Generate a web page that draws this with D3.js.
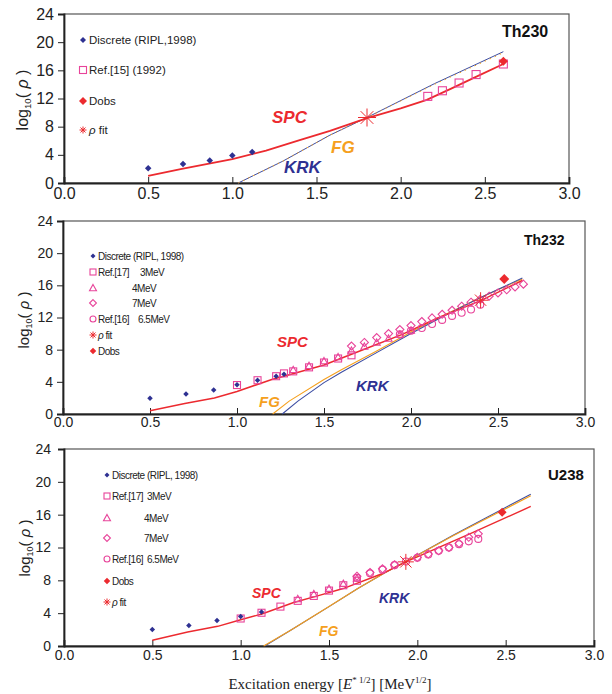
<!DOCTYPE html>
<html><head><meta charset="utf-8">
<script src="https://cdn.jsdelivr.net/npm/d3@7"></script>
<style>
body{margin:0;background:#fff;}
svg{display:block;font-family:"Liberation Sans",Arial,sans-serif;}
</style></head>
<body>
<svg id="chart" width="612" height="694"></svg>
<script>
// ---------- shared ticks ----------
const xTicks = [0, 0.5, 1.0, 1.5, 2.0, 2.5, 3.0];
const yTicks = [0, 4, 8, 12, 16, 20, 24];

// ---------- Th230 ----------
const th230DiscreteX = [0.5, 0.707, 0.866, 1.0, 1.118];
const th230DiscreteY = [2.1, 2.7, 3.2, 3.9, 4.4];
const th230RefX = [2.161, 2.248, 2.347, 2.448, 2.61];
const th230RefY = [12.3, 13.1, 14.2, 15.4, 16.9];
const th230Dobs = [2.61, 17.3];
const th230Fit = [1.80, 9.3];
const th230SpcX = [0.5, 0.7, 1.0, 1.2, 1.4, 1.58, 1.8, 2.0, 2.155, 2.3, 2.45, 2.61];
const th230SpcY = [1.0, 2.0, 3.4, 4.6, 6.1, 7.4, 9.2, 10.6, 11.8, 13.4, 15.1, 16.9];
const th230KrkX = [1.035, 1.3, 1.58, 1.8, 2.2, 2.61];
const th230KrkY = [0, 3.1, 6.8, 9.3, 14.1, 18.65];
const th230FgX = [1.035, 1.3, 1.58, 1.8, 2.2, 2.61];
const th230FgY = [0, 3.1, 6.8, 9.3, 14.0, 18.5];

// ---------- Th232 ----------
const th232DiscreteX = [0.5, 0.707, 0.866, 1.0, 1.118, 1.225, 1.27];
const th232DiscreteY = [1.95, 2.5, 3.0, 3.65, 4.2, 4.7, 4.95];
const th232Ref17_3X = [1.0, 1.118, 1.225, 1.27, 1.323, 1.414, 1.5, 1.581, 1.658];
const th232Ref17_3Y = [3.6, 4.2, 4.7, 5.05, 5.3, 5.8, 6.4, 6.9, 7.3];
const th232Ref17_4X = [1.323, 1.414, 1.5, 1.581, 1.658, 1.732, 1.803, 1.871, 1.936, 2.0];
const th232Ref17_4Y = [5.5, 6.0, 6.6, 7.1, 7.9, 8.4, 8.9, 9.4, 9.9, 10.4];
const th232Ref17_7X = [1.658, 1.732, 1.803, 1.871, 1.936, 2.0, 2.062, 2.121, 2.179, 2.236, 2.291, 2.345, 2.398, 2.449, 2.5, 2.55, 2.598, 2.646];
const th232Ref17_7Y = [8.45, 8.9, 9.5, 10.0, 10.5, 11.0, 11.5, 11.95, 12.4, 12.9, 13.4, 13.9, 14.25, 14.65, 15.05, 15.45, 15.8, 16.15];
const th232Ref16X = [1.936, 2.0, 2.062, 2.121, 2.179, 2.236, 2.291, 2.345, 2.398];
const th232Ref16Y = [9.9, 10.35, 10.7, 11.2, 11.7, 12.2, 12.6, 13.0, 13.6];
const th232Dobs = [2.536, 16.8];
const th232Fit = [2.40, 14.15];
const th232SpcX = [0.5, 0.7, 0.87, 1.0, 1.2, 1.27, 1.5, 1.75, 1.95, 2.15, 2.4, 2.64];
const th232SpcY = [0.4, 1.3, 2.0, 2.8, 4.3, 4.7, 6.1, 8.2, 9.9, 11.9, 14.1, 16.6];
const th232FgX = [1.205, 1.3, 1.5, 1.6, 1.8, 2.0, 2.2, 2.4, 2.64];
const th232FgY = [0, 1.6, 4.3, 5.5, 7.8, 10.2, 12.4, 14.5, 16.8];
const th232KrkX = [1.26, 1.35, 1.5, 1.6, 1.8, 2.0, 2.2, 2.4, 2.64];
const th232KrkY = [0, 1.6, 3.9, 5.2, 7.6, 10.0, 12.3, 14.5, 16.9];

// ---------- U238 ----------
const u238DiscreteX = [0.5, 0.707, 0.866, 1.0, 1.118];
const u238DiscreteY = [2.0, 2.5, 3.1, 3.6, 4.15];
const u238Ref17_3X = [1.0, 1.118, 1.225, 1.323, 1.414, 1.5, 1.581, 1.658];
const u238Ref17_3Y = [3.35, 4.05, 4.8, 5.5, 6.1, 6.75, 7.4, 7.95];
const u238Ref17_4X = [1.323, 1.414, 1.5, 1.581, 1.658];
const u238Ref17_4Y = [5.75, 6.35, 7.0, 7.6, 8.25];
const u238Ref17_7X = [1.658, 1.732, 1.803, 1.871, 2.0, 2.062, 2.121, 2.179, 2.236, 2.291, 2.345];
const u238Ref17_7Y = [8.5, 8.95, 9.4, 9.9, 10.8, 11.2, 11.6, 12.0, 12.5, 13.25, 13.66];
const u238Ref16X = [1.658, 1.732, 1.803, 1.871, 1.936, 2.0, 2.062, 2.121, 2.179, 2.236, 2.291, 2.345];
const u238Ref16Y = [8.3, 8.85, 9.3, 9.85, 10.3, 10.75, 11.15, 11.6, 12.0, 12.4, 12.75, 13.05];
const u238Dobs = [2.48, 16.3];
const u238Fit = [1.935, 10.25];
const u238SpcX = [0.5, 0.7, 0.87, 1.0, 1.12, 1.3, 1.45, 1.58, 1.8, 1.935, 2.3, 2.642];
const u238SpcY = [0.7, 1.7, 2.4, 3.2, 3.9, 5.3, 6.2, 7.0, 8.8, 10.25, 13.7, 17.0];
const u238FgX = [1.13, 1.29, 1.5, 1.663, 1.814, 1.935, 2.2, 2.642];
const u238FgY = [0, 2.0, 4.8, 7.0, 8.9, 10.3, 13.4, 18.3];
const u238KrkX = [1.136, 1.29, 1.5, 1.663, 1.814, 1.935, 2.2, 2.642];
const u238KrkY = [0, 2.0, 4.8, 7.0, 8.9, 10.3, 13.45, 18.5];

// ---------- colours ----------
const C = {red:"#ec2a2f", pink:"#e8449a", navy:"#2e3192", orange:"#f5a01e", blue:"#3c4da3", frame:"#333"};

const zip = (xs, ys) => xs.map((v, i) => [v, ys[i]]);
const svg = d3.select("#chart");

function diamond(g, cx, cy, s, fill, stroke) {
  const h = s / 2;
  return g.append("path").attr("d", `M${cx},${cy-h}L${cx+h},${cy}L${cx},${cy+h}L${cx-h},${cy}Z`)
    .attr("fill", fill).attr("stroke", stroke || "none").attr("stroke-width", stroke ? 1.1 : 0);
}

function marker(g, type, cx, cy, s) {
  if (type === "discrete") {
    diamond(g, cx, cy, s, C.navy);
  } else if (type === "square") {
    g.append("rect").attr("x", cx - s/2).attr("y", cy - s/2).attr("width", s).attr("height", s).attr("fill", "none").attr("stroke", C.pink).attr("stroke-width", 1.1);
  } else if (type === "tri") {
    const h = s*0.5;
    g.append("path").attr("d", `M${cx},${cy-h}L${cx+h},${cy+h*0.8}L${cx-h},${cy+h*0.8}Z`).attr("fill", "none").attr("stroke", C.pink).attr("stroke-width", 1.1);
  } else if (type === "diam") {
    diamond(g, cx, cy, s*1.15, "none", C.pink);
  } else if (type === "circ") {
    g.append("circle").attr("cx", cx).attr("cy", cy).attr("r", s/2).attr("fill", "none").attr("stroke", C.pink).attr("stroke-width", 1.1);
  } else if (type === "dobs") {
    diamond(g, cx, cy, s, C.red);
  } else if (type === "fit") {
    const r = s/2;
    [0, 45, 90, 135].forEach(a => {
      const rad = a*Math.PI/180;
      g.append("line").attr("x1", cx - r*Math.cos(rad)).attr("y1", cy - r*Math.sin(rad))
        .attr("x2", cx + r*Math.cos(rad)).attr("y2", cy + r*Math.sin(rad))
        .attr("stroke", C.red).attr("stroke-width", 1);
    });
  }
}

function panel(cfg) {
  const g = svg.append("g");
  const x = d3.scaleLinear().domain([0, 3]).range([cfg.x0, cfg.x1]);
  const y = d3.scaleLinear().domain([0, 24]).range([cfg.y0, cfg.y1]);

  g.append("rect").attr("x", cfg.x0).attr("y", cfg.y1).attr("width", cfg.x1 - cfg.x0).attr("height", cfg.y0 - cfg.y1)
    .attr("fill", "none").attr("stroke", "#555").attr("stroke-width", 1.2);

  const xa = g.append("g").attr("transform", `translate(0,${cfg.y0})`)
    .call(d3.axisBottom(x).tickValues(xTicks).tickSize(-6).tickPadding(cfg.xPad).tickFormat(d3.format(".1f")));
  const ya = g.append("g").attr("transform", `translate(${cfg.x0},0)`)
    .call(d3.axisLeft(y).tickValues(yTicks).tickSize(6).tickPadding(cfg.yPad));
  [xa, ya].forEach(a => {
    a.select(".domain").attr("stroke", "#222").attr("stroke-width", 1.8);
    a.selectAll(".tick line").attr("stroke", "#222").attr("stroke-width", 1);
    a.selectAll("text").attr("font-size", cfg.tickFont).attr("fill", "#222").attr("font-family", "Liberation Sans, Arial, sans-serif");
  });

  const line = d3.line().x(d => x(d[0])).y(d => y(d[1]));
  const fgPath = () => g.append("path").attr("d", line(zip(cfg.fgX, cfg.fgY))).attr("fill", "none").attr("stroke", C.orange);
  const krkPath = () => g.append("path").attr("d", line(zip(cfg.krkX, cfg.krkY))).attr("fill", "none").attr("stroke", C.blue);
  if (cfg.fgMode === "dotted") {
    krkPath().attr("stroke-width", 1);
    fgPath().attr("stroke-width", 1).attr("stroke-dasharray", "1.5,4");
  } else if (cfg.fgMode === "top") {
    krkPath().attr("stroke-width", 1.1);
    fgPath().attr("stroke-width", 1.2);
  } else {
    fgPath().attr("stroke-width", 1.1);
    krkPath().attr("stroke-width", 1.1);
  }
  g.append("path").attr("d", line(zip(cfg.spcX, cfg.spcY))).attr("fill", "none").attr("stroke", C.red).attr("stroke-width", cfg.spcW);

  // markers
  const m = g.append("g");
  const ms = cfg.ms;
  (cfg.series || []).forEach(s => {
    zip(s.x, s.y).forEach(d => marker(m, s.type, x(d[0]), y(d[1]), ms));
  });
  zip(cfg.discX, cfg.discY).forEach(d => marker(m, "discrete", x(d[0]), y(d[1]), cfg.discS));
  marker(m, "fit", x(cfg.fit[0]), y(cfg.fit[1]), cfg.fitSize);
  marker(m, "dobs", x(cfg.dobs[0]), y(cfg.dobs[1]), cfg.dobsS);

  // curve labels
  cfg.labels.forEach(l => {
    g.append("text").attr("x", l.x).attr("y", l.y).text(l.t).attr("fill", l.c)
      .attr("font-size", l.fs).attr("font-weight", "bold").attr("font-style", "italic");
  });

  // nucleus title
  g.append("text").attr("x", cfg.title.x).attr("y", cfg.title.y).text(cfg.title.t)
    .attr("font-size", cfg.title.fs).attr("font-weight", "bold").attr("fill", "#111");

  // y axis title log10(ρ)
  const yt = g.append("text").attr("transform", `translate(${cfg.ytx},${cfg.yty}) rotate(-90)`)
    .attr("text-anchor", "middle").attr("font-size", cfg.ytFont).attr("fill", "#222");
  yt.append("tspan").text("log");
  yt.append("tspan").text("10").attr("font-size", cfg.ytFont*0.6).attr("dy", 3);
  yt.append("tspan").text("(").attr("dy", -3);
  yt.append("tspan").text(" ρ ").attr("font-style", "italic");
  yt.append("tspan").text(")");

  // legend
  cfg.legend.forEach(r => {
    marker(g, r.type, r.mx, r.y, r.ms);
    if (r.t) {
      const t = g.append("text").attr("x", r.tx).attr("y", r.y + cfg.legFont*0.36).attr("font-size", cfg.legFont)
        .attr("fill", "#222").attr("letter-spacing", cfg.legLs);
      if (r.rho) { t.append("tspan").text("ρ").attr("font-style", "italic"); t.append("tspan").text(" fit"); }
      else t.text(r.t);
    }
    if (r.t2) {
      g.append("text").attr("x", r.t2x).attr("y", r.y + cfg.legFont*0.36).attr("font-size", cfg.legFont)
        .attr("fill", "#222").attr("letter-spacing", cfg.legLs).text(r.t2);
    }
  });
}

// ---------- panel 1 : Th230 ----------
panel({
  x0: 64, x1: 569, y0: 183, y1: 14, tickFont: 16, xPad: 5, yPad: 4, ms: 8, discS: 6.5, dobsS: 9, fitSize: 18, spcW: 1.8, fgMode: "dotted",
  discX: th230DiscreteX, discY: th230DiscreteY,
  series: [{type: "square", x: th230RefX, y: th230RefY}],
  fit: th230Fit, dobs: th230Dobs,
  spcX: th230SpcX, spcY: th230SpcY, krkX: th230KrkX, krkY: th230KrkY, fgX: th230FgX, fgY: th230FgY,
  labels: [{t: "SPC", x: 272, y: 123, fs: 17, c: C.red}, {t: "FG", x: 331, y: 153, fs: 17, c: C.orange}, {t: "KRK", x: 284, y: 173, fs: 17, c: C.navy}],
  title: {t: "Th230", x: 502, y: 37, fs: 16},
  ytx: 28, yty: 100, ytFont: 16,
  legFont: 11.5, legLs: 0,
  legend: [
    {type: "discrete", mx: 83, y: 40, ms: 6, tx: 89, t: "Discrete (RIPL,1998)"},
    {type: "square", mx: 83, y: 70, ms: 7, tx: 89, t: "Ref.[15] (1992)"},
    {type: "dobs", mx: 83, y: 101, ms: 8, tx: 89, t: "Dobs"},
    {type: "fit", mx: 83, y: 130, ms: 7, tx: 89, t: "fit", rho: true}
  ]
});

// ---------- panel 2 : Th232 ----------
panel({
  x0: 63, x1: 585, y0: 414, y1: 221, tickFont: 14, xPad: 3, yPad: 4, ms: 7, discS: 5.5, dobsS: 10, fitSize: 16, spcW: 1.5, fgMode: "below",
  discX: th232DiscreteX, discY: th232DiscreteY,
  series: [
    {type: "square", x: th232Ref17_3X, y: th232Ref17_3Y},
    {type: "tri", x: th232Ref17_4X, y: th232Ref17_4Y},
    {type: "circ", x: th232Ref16X, y: th232Ref16Y},
    {type: "diam", x: th232Ref17_7X, y: th232Ref17_7Y}
  ],
  fit: th232Fit, dobs: th232Dobs,
  spcX: th232SpcX, spcY: th232SpcY, krkX: th232KrkX, krkY: th232KrkY, fgX: th232FgX, fgY: th232FgY,
  labels: [{t: "SPC", x: 277, y: 347, fs: 15, c: C.red}, {t: "FG", x: 259, y: 407, fs: 15, c: C.orange}, {t: "KRK", x: 356, y: 391, fs: 15, c: C.navy}],
  title: {t: "Th232", x: 524, y: 245, fs: 14},
  ytx: 29, yty: 320, ytFont: 15,
  legFont: 10, legLs: -0.5,
  legend: [
    {type: "discrete", mx: 93, y: 256, ms: 5, tx: 98, t: "Discrete (RIPL, 1998)"},
    {type: "square", mx: 93, y: 272, ms: 6, tx: 98, t: "Ref.[17]", t2: "3MeV", t2x: 140},
    {type: "tri", mx: 93, y: 288, ms: 7, t2: "4MeV", t2x: 132},
    {type: "diam", mx: 93, y: 303, ms: 6, t2: "7MeV", t2x: 132},
    {type: "circ", mx: 93, y: 319, ms: 6, tx: 98, t: "Ref.[16]", t2: "6.5MeV", t2x: 138},
    {type: "fit", mx: 93, y: 335, ms: 7, tx: 98, t: "fit", rho: true},
    {type: "dobs", mx: 93, y: 351, ms: 6.5, tx: 98, t: "Dobs"}
  ]
});

// ---------- panel 3 : U238 ----------
panel({
  x0: 64, x1: 594, y0: 646, y1: 449, tickFont: 14, xPad: 4, yPad: 7, ms: 7, discS: 5.5, dobsS: 9, fitSize: 16, spcW: 1.4, fgMode: "top",
  discX: u238DiscreteX, discY: u238DiscreteY,
  series: [
    {type: "square", x: u238Ref17_3X, y: u238Ref17_3Y},
    {type: "tri", x: u238Ref17_4X, y: u238Ref17_4Y},
    {type: "circ", x: u238Ref16X, y: u238Ref16Y},
    {type: "diam", x: u238Ref17_7X, y: u238Ref17_7Y}
  ],
  fit: u238Fit, dobs: u238Dobs,
  spcX: u238SpcX, spcY: u238SpcY, krkX: u238KrkX, krkY: u238KrkY, fgX: u238FgX, fgY: u238FgY,
  labels: [{t: "SPC", x: 252, y: 598, fs: 14, c: C.red}, {t: "FG", x: 319, y: 636, fs: 14, c: C.orange}, {t: "KRK", x: 379, y: 603, fs: 14, c: C.navy}],
  title: {t: "U238", x: 548, y: 480, fs: 15},
  ytx: 30, yty: 548, ytFont: 15,
  legFont: 10, legLs: -0.5,
  legend: [
    {type: "discrete", mx: 107, y: 475, ms: 5, tx: 112, t: "Discrete (RIPL, 1998)"},
    {type: "square", mx: 107, y: 496, ms: 6, tx: 112, t: "Ref.[17]", t2: "3MeV", t2x: 147},
    {type: "tri", mx: 107, y: 518, ms: 7, t2: "4MeV", t2x: 144},
    {type: "diam", mx: 107, y: 538, ms: 6, t2: "7MeV", t2x: 144},
    {type: "circ", mx: 107, y: 559, ms: 6, tx: 112, t: "Ref.[16]", t2: "6.5MeV", t2x: 147},
    {type: "dobs", mx: 107, y: 581, ms: 6.5, tx: 112, t: "Dobs"},
    {type: "fit", mx: 107, y: 602, ms: 7, tx: 112, t: "fit", rho: true}
  ]
});

// ---------- x axis title ----------
const xt = svg.append("text").attr("x", 330).attr("y", 689).attr("text-anchor", "middle")
  .attr("font-family", "Liberation Serif, Times New Roman, serif").attr("font-size", 15).attr("fill", "#222");
xt.append("tspan").text("Excitation energy [");
xt.append("tspan").text("E").attr("font-style", "italic");
xt.append("tspan").text("* 1/2").attr("font-size", 9).attr("dy", -6);
xt.append("tspan").text("] [MeV").attr("dy", 6);
xt.append("tspan").text("1/2").attr("font-size", 9).attr("dy", -6);
xt.append("tspan").text("]").attr("dy", 6);
</script>
</body></html>
